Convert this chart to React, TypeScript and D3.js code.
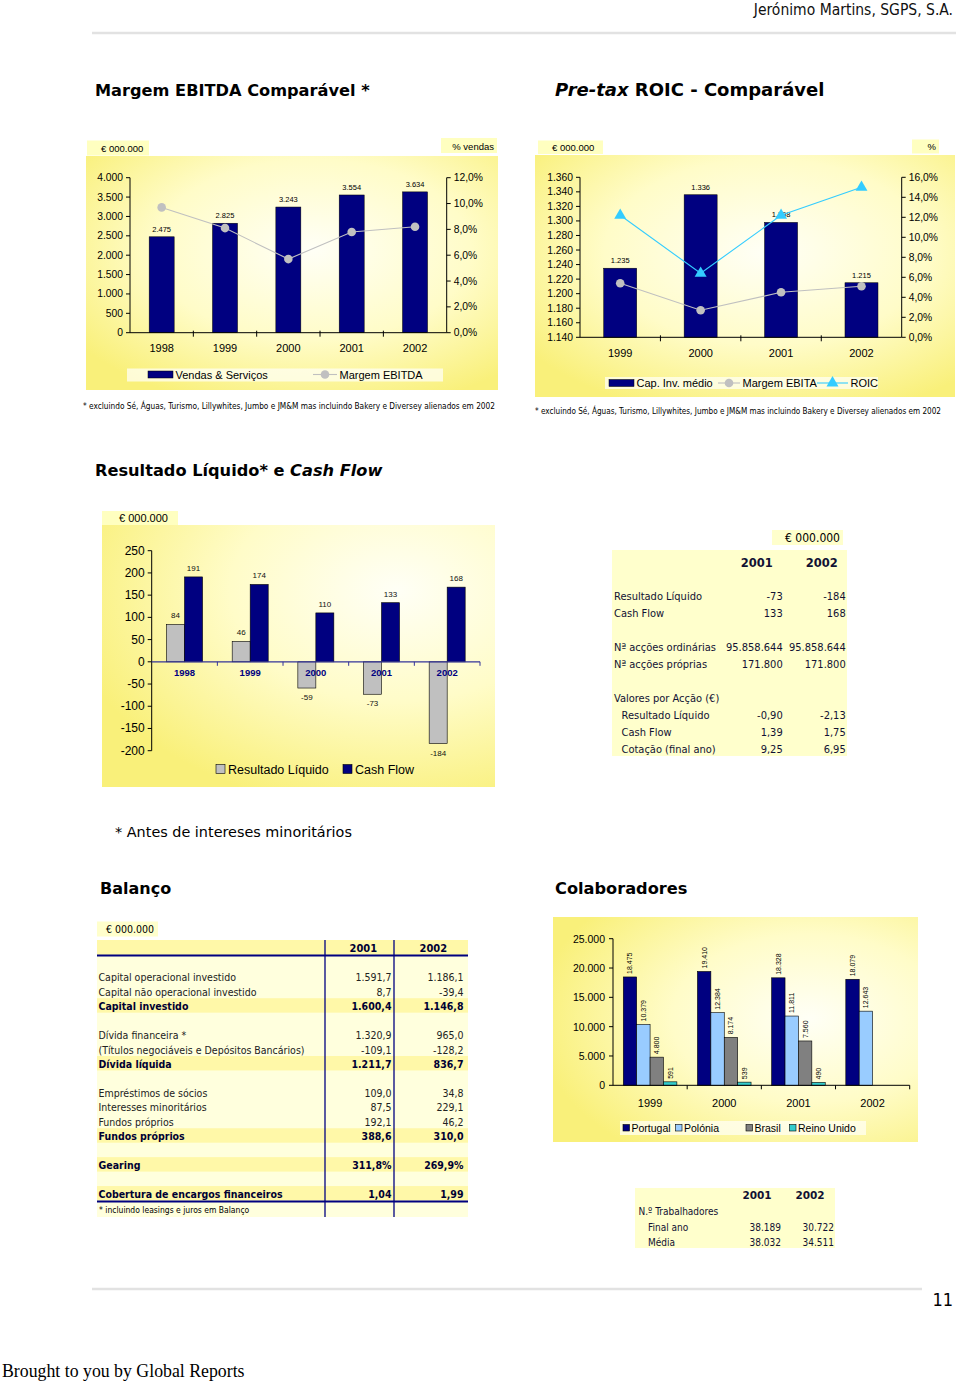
import React from 'react';
import * as d3 from 'd3';

// ---------- DATA ----------
const ebitdaYears = ['1998', '1999', '2000', '2001', '2002'];
const vendasServicos = [2475, 2825, 3243, 3554, 3634];
const margemEbitda = [9.7, 8.1, 5.7, 7.8, 8.2];
const ebitdaLeftTicks = [0, 500, 1000, 1500, 2000, 2500, 3000, 3500, 4000];
const ebitdaRightTicks = [0, 2, 4, 6, 8, 10, 12];

const roicYears = ['1999', '2000', '2001', '2002'];
const capInvMedio = [1235, 1336, 1298, 1215];
const margemEbita = [5.4, 2.7, 4.5, 5.1];
const roicValues = [12.2, 6.4, 12.2, 15.0];
const roicLeftTicks = [1140, 1160, 1180, 1200, 1220, 1240, 1260, 1280, 1300, 1320, 1340, 1360];
const roicRightTicks = [0, 2, 4, 6, 8, 10, 12, 14, 16];

const rlYears = ['1998', '1999', '2000', '2001', '2002'];
const resultadoLiquido = [84, 46, -59, -73, -184];
const cashFlow = [191, 174, 110, 133, 168];
const rlTicks = [-200, -150, -100, -50, 0, 50, 100, 150, 200, 250];

const colabYears = ['1999', '2000', '2001', '2002'];
const colabSeries = ['Portugal', 'Polónia', 'Brasil', 'Reino Unido'];
const colabPortugal = [18475, 19410, 18328, 18079];
const colabPolonia = [10379, 12384, 11811, 12643];
const colabBrasil: (number | null)[] = [4800, 8174, 7560, null];
const colabReinoUnido: (number | null)[] = [591, 539, 490, null];
const colabTicks = [0, 5000, 10000, 15000, 20000, 25000];

const tableYears = ['2001', '2002'];
const accaoRows: (null | { label: string; indent?: boolean; v: string[] })[] = [
  { label: 'Resultado Líquido', v: ['-73', '-184'] },
  { label: 'Cash Flow', v: ['133', '168'] },
  null,
  { label: 'Nª acções ordinárias', v: ['95.858.644', '95.858.644'] },
  { label: 'Nª acções próprias', v: ['171.800', '171.800'] },
  null,
  { label: 'Valores por Acção (€)', v: ['', ''] },
  { label: 'Resultado Líquido', indent: true, v: ['-0,90', '-2,13'] },
  { label: 'Cash Flow', indent: true, v: ['1,39', '1,75'] },
  { label: 'Cotação (final ano)', indent: true, v: ['9,25', '6,95'] },
];

const balancoRows: (null | { label: string; bold?: boolean; v: string[] })[] = [
  { label: 'Capital operacional investido', v: ['1.591,7', '1.186,1'] },
  { label: 'Capital não operacional investido', v: ['8,7', '-39,4'] },
  { label: 'Capital investido', bold: true, v: ['1.600,4', '1.146,8'] },
  null,
  { label: 'Dívida financeira *', v: ['1.320,9', '965,0'] },
  { label: '(Títulos negociáveis e Depósitos Bancários)', v: ['-109,1', '-128,2'] },
  { label: 'Dívida líquida', bold: true, v: ['1.211,7', '836,7'] },
  null,
  { label: 'Empréstimos de sócios', v: ['109,0', '34,8'] },
  { label: 'Interesses minoritários', v: ['87,5', '229,1'] },
  { label: 'Fundos próprios', v: ['192,1', '46,2'] },
  { label: 'Fundos próprios', bold: true, v: ['388,6', '310,0'] },
  null,
  { label: 'Gearing', bold: true, v: ['311,8%', '269,9%'] },
  null,
  { label: 'Cobertura de encargos financeiros', bold: true, v: ['1,04', '1,99'] },
];

const trabRows = [
  { label: 'N.º Trabalhadores', indent: false, v: ['', ''] },
  { label: 'Final ano', indent: true, v: ['38.189', '30.722'] },
  { label: 'Média', indent: true, v: ['38.032', '34.511'] },
];

// ---------- HELPERS ----------
const loc = d3.formatLocale({ decimal: ',', thousands: '.', grouping: [3], currency: ['€', ''], minus: '-' });
const fInt = loc.format(',d');
const fPct = (v: number) => loc.format(',.1f')(v) + '%';

const ARIAL = "'Liberation Sans', Arial, sans-serif";
const COND = "'DejaVu Sans Condensed', 'DejaVu Sans', sans-serif";
const VERD = "'DejaVu Sans', Verdana, sans-serif";
const NAVY = '#000080';
const GREY = '#C0C0C0';
const CYAN = '#33CCFF';
const TBL = '#FFFFCC';
const FOOT = '* excluindo Sé, Águas, Turismo, Lillywhites, Jumbo e JM&M mas incluindo Bakery e Diversey alienados em 2002';

type LegendItem = { kind: 'rect' | 'line'; x: number; w: number; label: string; color: string; marker?: 'circle' | 'tri' };

type ComboProps = {
  panel: [number, number, number, number];
  leftBox: [number, number, number, number, string];
  rightBox: [number, number, number, number, string];
  x0: number; x1: number; yTop: number; yBot: number;
  cats: string[]; bars: number[]; barW: number;
  leftTicks: number[]; rightTicks: number[];
  lines: { values: number[]; color: string; marker: 'circle' | 'tri' }[];
  xLabelY: number;
  legendStrip: [number, number, number, number];
  legendY: number;
  legend: LegendItem[];
  foot: [number, number, number];
};

function Marker({ x, y, kind, color }: { x: number; y: number; kind: 'circle' | 'tri'; color: string }) {
  if (kind === 'circle') return <circle cx={x} cy={y} r={4.3} fill={color} />;
  const p = d3.symbol(d3.symbolTriangle, 62)();
  return <path d={p || ''} transform={`translate(${x},${y})`} fill={color} />;
}

function ComboChart(p: ComboProps) {
  const x = d3.scaleBand<string>().domain(p.cats).range([p.x0, p.x1]);
  const yL = d3.scaleLinear().domain([p.leftTicks[0], p.leftTicks[p.leftTicks.length - 1]]).range([p.yBot, p.yTop]);
  const yR = d3.scaleLinear().domain([p.rightTicks[0], p.rightTicks[p.rightTicks.length - 1]]).range([p.yBot, p.yTop]);
  const bw = x.bandwidth();
  const cx = (c: string) => (x(c) as number) + bw / 2;
  const [px, py, pw, ph] = p.panel;
  return (
    <g>
      <rect x={px} y={py} width={pw} height={ph} fill="url(#yg)" />
      <rect x={p.leftBox[0]} y={p.leftBox[1]} width={p.leftBox[2]} height={p.leftBox[3]} fill="#FFFFC0" />
      <text x={p.leftBox[0] + 14} y={p.leftBox[1] + p.leftBox[3] - 3.5} fontSize={9.5} fontFamily={ARIAL}>{p.leftBox[4]}</text>
      <rect x={p.rightBox[0]} y={p.rightBox[1]} width={p.rightBox[2]} height={p.rightBox[3]} fill="#FFFFC0" />
      <text x={p.rightBox[0] + p.rightBox[2] - 3} y={p.rightBox[1] + p.rightBox[3] - 3.5} fontSize={9.5} fontFamily={ARIAL} textAnchor="end">{p.rightBox[4]}</text>
      {p.cats.map((c, i) => (
        <g key={c}>
          <rect x={cx(c) - p.barW / 2} y={yL(p.bars[i])} width={p.barW} height={p.yBot - yL(p.bars[i])} fill={NAVY} stroke="#000" strokeWidth={0.5} />
          <text x={cx(c)} y={yL(p.bars[i]) - 5} fontSize={7.5} fontFamily={ARIAL} textAnchor="middle" fill="#000">{fInt(p.bars[i])}</text>
        </g>
      ))}
      {p.lines.map((l, li) => {
        const path = d3.line<number>().x((_, i) => cx(p.cats[i])).y((v) => yR(v))(l.values) || '';
        return (
          <g key={li}>
            <path d={path} fill="none" stroke={l.color} strokeWidth={1.1} />
            {l.values.map((v, i) => <Marker key={i} x={cx(p.cats[i])} y={yR(v)} kind={l.marker} color={l.color} />)}
          </g>
        );
      })}
      <line x1={p.x0} x2={p.x0} y1={p.yTop} y2={p.yBot} stroke="#000" strokeWidth={1} />
      {p.leftTicks.map((t) => (
        <g key={t}>
          <line x1={p.x0 - 4} x2={p.x0} y1={yL(t)} y2={yL(t)} stroke="#000" />
          <text x={p.x0 - 7} y={yL(t) + 3.5} fontSize={10.3} fontFamily={ARIAL} textAnchor="end">{fInt(t)}</text>
        </g>
      ))}
      <line x1={p.x1} x2={p.x1} y1={p.yTop} y2={p.yBot} stroke="#000" strokeWidth={1} />
      {p.rightTicks.map((t) => (
        <g key={t}>
          <line x1={p.x1} x2={p.x1 + 4} y1={yR(t)} y2={yR(t)} stroke="#000" />
          <text x={p.x1 + 7} y={yR(t) + 3.5} fontSize={10.3} fontFamily={ARIAL}>{fPct(t)}</text>
        </g>
      ))}
      <line x1={p.x0} x2={p.x1} y1={p.yBot} y2={p.yBot} stroke="#000" />
      {p.cats.slice(1).map((c) => (
        <line key={c} x1={x(c) as number} x2={x(c) as number} y1={p.yBot - 2} y2={p.yBot + 4} stroke="#000" />
      ))}
      {p.cats.map((c) => (
        <text key={c} x={cx(c)} y={p.xLabelY} fontSize={11} fontFamily={ARIAL} textAnchor="middle">{c}</text>
      ))}
      <rect x={p.legendStrip[0]} y={p.legendStrip[1]} width={p.legendStrip[2]} height={p.legendStrip[3]} fill="#FFFFF4" opacity={0.75} />
      {p.legend.map((it, i) => (
        <g key={i}>
          {it.kind === 'rect' ? (
            <rect x={it.x} y={p.legendY - 3.5} width={it.w} height={7} fill={it.color} stroke="#000" strokeWidth={0.5} />
          ) : (
            <g>
              <line x1={it.x} x2={it.x + it.w} y1={p.legendY} y2={p.legendY} stroke={it.color} strokeWidth={1.1} />
              <Marker x={it.x + it.w / 2} y={p.legendY} kind={it.marker || 'circle'} color={it.color} />
            </g>
          )}
          <text x={it.x + it.w + 2.5} y={p.legendY + 4} fontSize={11} fontFamily={ARIAL}>{it.label}</text>
        </g>
      ))}
      <text x={p.foot[0]} y={p.foot[1]} fontSize={8} fontFamily={COND} textLength={p.foot[2]} lengthAdjust="spacingAndGlyphs">{FOOT}</text>
    </g>
  );
}

function ResultadoChart() {
  const x0 = 151.7, x1 = 480, yTop = 550.7, yBot = 750.7;
  const x = d3.scaleBand<string>().domain(rlYears).range([x0, x1]);
  const y = d3.scaleLinear().domain([-200, 250]).range([yBot, yTop]);
  const bw = 18;
  const cx = (c: string) => (x(c) as number) + x.bandwidth() / 2;
  return (
    <g>
      <rect x={102} y={525} width={393} height={262} fill="url(#yg3)" />
      <rect x={102} y={511} width={76} height={14} fill="#FFFFC0" />
      <text x={119} y={522} fontSize={11} fontFamily={ARIAL}>€ 000.000</text>
      {rlYears.map((c, i) => {
        const r = resultadoLiquido[i];
        const f = cashFlow[i];
        return (
          <g key={c}>
            <rect x={cx(c) - bw} y={Math.min(y(r), y(0))} width={bw} height={Math.abs(y(r) - y(0))} fill={GREY} stroke="#000" strokeWidth={0.6} />
            <rect x={cx(c)} y={y(f)} width={bw} height={y(0) - y(f)} fill={NAVY} stroke="#000" strokeWidth={0.6} />
            <text x={cx(c) - bw / 2} y={r >= 0 ? y(r) - 6 : y(r) + 12} fontSize={8} fontFamily={ARIAL} textAnchor="middle" fill="#111">{fInt(r)}</text>
            <text x={cx(c) + bw / 2} y={y(f) - 6} fontSize={8} fontFamily={ARIAL} textAnchor="middle" fill="#111">{fInt(f)}</text>
          </g>
        );
      })}
      <line x1={x0} x2={x0} y1={yTop} y2={yBot} stroke="#000" />
      {rlTicks.map((t) => (
        <g key={t}>
          <line x1={x0 - 4} x2={x0} y1={y(t)} y2={y(t)} stroke="#000" />
          <text x={x0 - 7} y={y(t) + 4} fontSize={12} fontFamily={ARIAL} textAnchor="end">{fInt(t)}</text>
        </g>
      ))}
      <line x1={x0} x2={x1} y1={y(0)} y2={y(0)} stroke="#333399" strokeWidth={1.2} />
      {rlYears.slice(1).map((c) => (
        <line key={c} x1={x(c) as number} x2={x(c) as number} y1={y(0)} y2={y(0) + 4} stroke="#333399" />
      ))}
      <line x1={x1} x2={x1} y1={y(0)} y2={y(0) + 4} stroke="#333399" />
      {rlYears.map((c) => (
        <text key={c} x={cx(c)} y={676} fontSize={9.5} fontWeight="bold" fontFamily={ARIAL} textAnchor="middle" fill={NAVY}>{c}</text>
      ))}
      <rect x={216} y={764.5} width={9} height={9} fill={GREY} stroke="#000" strokeWidth={0.6} />
      <text x={228} y={773.5} fontSize={12.5} fontFamily={ARIAL}>Resultado Líquido</text>
      <rect x={343} y={764.5} width={9} height={9} fill={NAVY} stroke="#000" strokeWidth={0.6} />
      <text x={355} y={773.5} fontSize={12.5} fontFamily={ARIAL}>Cash Flow</text>
    </g>
  );
}

function AccaoTable() {
  const x1 = 782.7, x2 = 845.7;
  return (
    <g fontFamily={COND} fill="#111133">
      <rect x={772} y={530} width={71} height={15} fill={TBL} />
      <text x={840} y={542} fontSize={12} textAnchor="end" fill="#000">€ 000.000</text>
      <rect x={612} y={550} width={235} height={206} fill={TBL} />
      {tableYears.map((yr, i) => (
        <text key={yr} x={i === 0 ? 756.7 : 821.7} y={567} fontSize={11.5} fontWeight="bold" textAnchor="middle" fontFamily={VERD}>{yr}</text>
      ))}
      {accaoRows.map((r, i) => r && (
        <g key={i} fontSize={11}>
          <text x={r.indent ? 621.5 : 614} y={600 + i * 17}>{r.label}</text>
          <text x={x1} y={600 + i * 17} textAnchor="end">{r.v[0]}</text>
          <text x={x2} y={600 + i * 17} textAnchor="end">{r.v[1]}</text>
        </g>
      ))}
    </g>
  );
}

function BalancoTable() {
  const pitch = 14.45;
  const y0 = 977.3;
  return (
    <g fontFamily={COND}>
      <rect x={97} y={921.5} width={61} height={15} fill={TBL} />
      <text x={106} y={932.5} fontSize={10.5}>€ 000.000</text>
      <rect x={97} y={940} width={371} height={277} fill="#FFFFDD" />
      <rect x={97} y={940} width={371} height={15} fill="#FFF8A8" />
      {balancoRows.map((r, i) => r && r.bold ? (
        <rect key={'b' + i} x={97} y={y0 + i * pitch - 8} width={371} height={pitch} fill="#FFF8A8" />
      ) : null)}
      <line x1={97} x2={468} y1={955.5} y2={955.5} stroke={NAVY} strokeWidth={2} />
      <line x1={97} x2={468} y1={1201.5} y2={1201.5} stroke={NAVY} strokeWidth={2} />
      <line x1={325} x2={325} y1={940} y2={1217} stroke={NAVY} strokeWidth={1.3} />
      <line x1={394} x2={394} y1={940} y2={1217} stroke={NAVY} strokeWidth={1.3} />
      <text x={363.3} y={952} fontSize={11} fontWeight="bold" textAnchor="middle" fill="#000033">{tableYears[0]}</text>
      <text x={433.3} y={952} fontSize={11} fontWeight="bold" textAnchor="middle" fill="#000033">{tableYears[1]}</text>
      {balancoRows.map((r, i) => r && (
        <g key={i} fontSize={10.5} fontWeight={r.bold ? 'bold' : 'normal'} fill={r.bold ? '#000033' : '#222'}>
          <text x={98.5} y={y0 + i * pitch + 4}>{r.label}</text>
          <text x={391.5} y={y0 + i * pitch + 4} textAnchor="end">{r.v[0]}</text>
          <text x={463.5} y={y0 + i * pitch + 4} textAnchor="end">{r.v[1]}</text>
        </g>
      ))}
      <text x={99} y={1212.5} fontSize={8.5}>* incluindo leasings e juros em Balanço</text>
    </g>
  );
}

function ColabChart() {
  const x0 = 613, x1 = 909.7, yTop = 938.7, yBot = 1085.3;
  const x = d3.scaleBand<string>().domain(colabYears).range([x0, x1]);
  const y = d3.scaleLinear().domain([0, 25000]).range([yBot, yTop]);
  const groupW = 53.6;
  const xi = d3.scaleBand<string>().domain(colabSeries).range([0, groupW]);
  const colors = [NAVY, '#99CCFF', '#808080', '#33CCCC'];
  const series = [colabPortugal, colabPolonia, colabBrasil, colabReinoUnido];
  const legendX = [623, 675.5, 746, 789.5];
  return (
    <g>
      <rect x={553} y={917} width={365} height={225} fill="url(#yg4)" />
      {colabYears.map((c, ci) => {
        const gx = (x(c) as number) + (x.bandwidth() - groupW) / 2;
        return (
          <g key={c}>
            {series.map((s, si) => {
              const v = s[ci];
              if (v == null) return null;
              const bx = gx + (xi(colabSeries[si]) as number);
              const w = xi.bandwidth();
              return (
                <g key={si}>
                  <rect x={bx} y={y(v)} width={w} height={yBot - y(v)} fill={colors[si]} stroke="#000" strokeWidth={0.6} />
                  <text transform={`translate(${bx + w / 2 + 2.5},${y(v) - 3}) rotate(-90)`} fontSize={7} fontFamily={ARIAL}>{fInt(v)}</text>
                </g>
              );
            })}
          </g>
        );
      })}
      <line x1={x0} x2={x0} y1={yTop} y2={yBot} stroke="#000" />
      {colabTicks.map((t) => (
        <g key={t}>
          <line x1={x0 - 4} x2={x0} y1={y(t)} y2={y(t)} stroke="#000" />
          <text x={x0 - 8} y={y(t) + 4} fontSize={10.5} fontFamily={ARIAL} textAnchor="end">{fInt(t)}</text>
        </g>
      ))}
      <line x1={x0} x2={x1} y1={yBot} y2={yBot} stroke="#000" />
      {colabYears.slice(1).map((c) => (
        <line key={c} x1={x(c) as number} x2={x(c) as number} y1={yBot} y2={yBot + 4} stroke="#000" />
      ))}
      <line x1={x1} x2={x1} y1={yBot} y2={yBot + 4} stroke="#000" />
      {colabYears.map((c) => (
        <text key={c} x={(x(c) as number) + x.bandwidth() / 2} y={1106.5} fontSize={11} fontFamily={ARIAL} textAnchor="middle">{c}</text>
      ))}
      <rect x={620} y={1121} width={246} height={14} fill="#FFFFF4" opacity={0.75} />
      {colabSeries.map((s, i) => (
        <g key={s}>
          <rect x={legendX[i]} y={1124.5} width={6.5} height={6.5} fill={colors[i]} stroke="#000" strokeWidth={0.6} />
          <text x={legendX[i] + 8.5} y={1132} fontSize={10.5} fontFamily={ARIAL}>{s}</text>
        </g>
      ))}
    </g>
  );
}

function TrabTable() {
  return (
    <g fontFamily={COND} fill="#111133">
      <rect x={635} y={1188} width={200} height={60} fill={TBL} />
      <text x={757} y={1198.5} fontSize={10.5} fontWeight="bold" textAnchor="middle" fontFamily={VERD}>{tableYears[0]}</text>
      <text x={810} y={1198.5} fontSize={10.5} fontWeight="bold" textAnchor="middle" fontFamily={VERD}>{tableYears[1]}</text>
      {trabRows.map((r, i) => (
        <g key={i} fontSize={10}>
          <text x={r.indent ? 648 : 638.5} y={1215 + i * 15.5}>{r.label}</text>
          <text x={781} y={1215 + i * 15.5} textAnchor="end">{r.v[0]}</text>
          <text x={834} y={1215 + i * 15.5} textAnchor="end">{r.v[1]}</text>
        </g>
      ))}
    </g>
  );
}

export default function App() {
  return (
    <svg width={960} height={1381} viewBox="0 0 960 1381" style={{ position: 'absolute', left: 0, top: 0, background: '#fff' }}>
      <defs>
        <radialGradient id="yg" cx="55%" cy="40%" r="70%">
          <stop offset="0" stopColor="#FFFFF6" />
          <stop offset="0.55" stopColor="#FFFCC8" />
          <stop offset="1" stopColor="#F9F07A" />
        </radialGradient>
        <radialGradient id="yg3" cx="75%" cy="25%" r="85%">
          <stop offset="0" stopColor="#FFFFF6" />
          <stop offset="0.5" stopColor="#FFFCC8" />
          <stop offset="1" stopColor="#F9F07A" />
        </radialGradient>
        <radialGradient id="yg4" cx="70%" cy="45%" r="75%">
          <stop offset="0" stopColor="#FFFFF6" />
          <stop offset="0.5" stopColor="#FFFCC8" />
          <stop offset="1" stopColor="#F9F07A" />
        </radialGradient>
      </defs>
      <rect x={0} y={0} width={960} height={1381} fill="#fff" />
      <text x={953} y={14.5} fontSize={15.5} fontFamily={COND} textAnchor="end" fill="#111">Jerónimo Martins, SGPS, S.A.</text>
      <line x1={92} x2={956} y1={33} y2={33} stroke="#E2E2E2" strokeWidth={2.5} />
      <text x={95} y={96} fontSize={16.2} fontWeight="bold" fontFamily={VERD}>Margem EBITDA Comparável *</text>
      <text x={555} y={96} fontSize={18} fontWeight="bold" fontFamily={VERD}>
        <tspan fontStyle="italic">Pre-tax</tspan> ROIC - Comparável
      </text>
      <text x={95} y={476} fontSize={16.2} fontWeight="bold" fontFamily={VERD}>
        Resultado Líquido* e <tspan fontStyle="italic">Cash Flow</tspan>
      </text>
      <text x={115} y={837} fontSize={14.4} fontFamily={VERD}>* Antes de intereses minoritários</text>
      <text x={100} y={894} fontSize={16} fontWeight="bold" fontFamily={VERD}>Balanço</text>
      <text x={555} y={894} fontSize={16.2} fontWeight="bold" fontFamily={VERD}>Colaboradores</text>

      <ComboChart
        panel={[86, 156, 412, 234]}
        leftBox={[87, 140.5, 62, 15, '€ 000.000']}
        rightBox={[441, 138, 56, 15, '% vendas']}
        x0={130} x1={446.7} yTop={177.7} yBot={332.7}
        cats={ebitdaYears} bars={vendasServicos} barW={25}
        leftTicks={ebitdaLeftTicks} rightTicks={ebitdaRightTicks}
        lines={[{ values: margemEbitda, color: GREY, marker: 'circle' }]}
        xLabelY={352}
        legendStrip={[127, 368.5, 316, 13]}
        legendY={374.5}
        legend={[
          { kind: 'rect', x: 148, w: 25, label: 'Vendas & Serviços', color: NAVY },
          { kind: 'line', x: 313, w: 24, label: 'Margem EBITDA', color: GREY, marker: 'circle' },
        ]}
        foot={[83, 409, 412]}
      />
      <ComboChart
        panel={[535, 155, 420, 242]}
        leftBox={[538, 140.5, 65, 13.5, '€ 000.000']}
        rightBox={[912, 139.5, 27, 14, '%']}
        x0={580} x1={901.7} yTop={177.3} yBot={337.3}
        cats={roicYears} bars={capInvMedio} barW={33}
        leftTicks={roicLeftTicks} rightTicks={roicRightTicks}
        lines={[
          { values: margemEbita, color: GREY, marker: 'circle' },
          { values: roicValues, color: CYAN, marker: 'tri' },
        ]}
        xLabelY={357}
        legendStrip={[605, 377, 273, 12]}
        legendY={383}
        legend={[
          { kind: 'rect', x: 609, w: 25, label: 'Cap. Inv. médio', color: NAVY },
          { kind: 'line', x: 718, w: 22, label: 'Margem EBITA', color: GREY, marker: 'circle' },
          { kind: 'line', x: 817, w: 31, label: 'ROIC', color: CYAN, marker: 'tri' },
        ]}
        foot={[535, 414, 406]}
      />
      <ResultadoChart />
      <AccaoTable />
      <BalancoTable />
      <ColabChart />
      <TrabTable />

      <line x1={92} x2={922} y1={1289} y2={1289} stroke="#E2E2E2" strokeWidth={2.5} />
      <text x={953} y={1306} fontSize={18} fontFamily={COND} textAnchor="end">11</text>
      <text x={2} y={1377} fontSize={17.8} fontFamily="'Liberation Serif', 'Times New Roman', serif">Brought to you by Global Reports</text>
    </svg>
  );
}
